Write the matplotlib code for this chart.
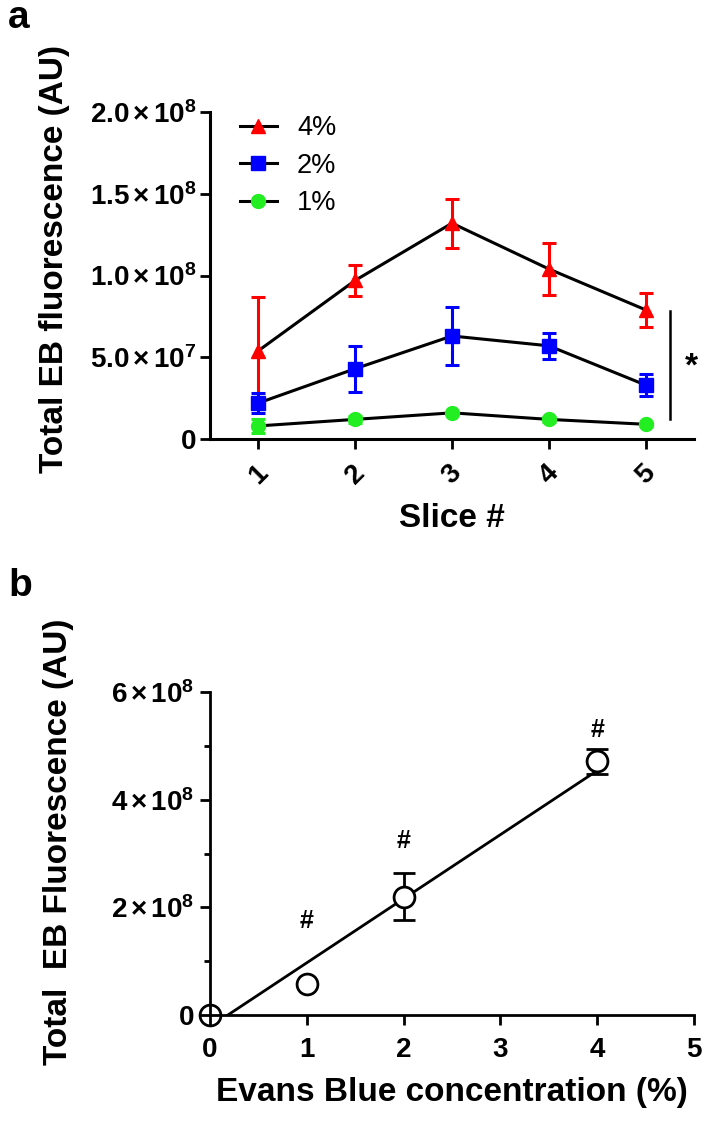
import matplotlib
matplotlib.use('Agg')
import matplotlib.pyplot as plt
from matplotlib.ticker import FixedLocator

plt.rcParams['font.family'] = ['Liberation Sans', 'DejaVu Sans']
plt.rcParams['font.weight'] = 'bold'
plt.rcParams['axes.labelweight'] = 'bold'
plt.rcParams['mathtext.fontset'] = 'custom'
plt.rcParams['mathtext.rm'] = 'Liberation Sans:bold'
plt.rcParams['mathtext.bf'] = 'Liberation Sans:bold'
plt.rcParams['mathtext.it'] = 'Liberation Sans:bold'
plt.rcParams['mathtext.default'] = 'rm'

# panel a: EB fluorescence per slice, mean and error
slices = [1, 2, 3, 4, 5]
labels_a = ['4%', '2%', '1%']
mean_4 = [5.4e7, 9.7e7, 1.32e8, 1.04e8, 7.9e7]
err_4 = [3.3e7, 0.95e7, 1.5e7, 1.6e7, 1.05e7]
mean_2 = [2.2e7, 4.3e7, 6.3e7, 5.7e7, 3.3e7]
err_2 = [0.6e7, 1.4e7, 1.8e7, 0.8e7, 0.7e7]
mean_1 = [0.8e7, 1.2e7, 1.6e7, 1.2e7, 0.9e7]
err_1 = [0.45e7, 0.2e7, 0.0, 0.15e7, 0.1e7]
yticks_a = [0, 5e7, 1e8, 1.5e8, 2e8]
yticklabels_a = ['0', r'$5.0\,{\times}\,10^{7}$', r'$1.0\,{\times}\,10^{8}$',
                 r'$1.5\,{\times}\,10^{8}$', r'$2.0\,{\times}\,10^{8}$']

# panel b: total fluorescence vs concentration
conc = [0, 1, 2, 4]
total = [0, 5.8e7, 2.2e8, 4.71e8]
total_err = [0, 0, 4.4e7, 2.4e7]
fit_slope = 1.19e8
fit_intercept = -2.2e7
fit_x = [0, 4]
hash_x = [1, 2, 4]
hash_y = [1.74e8, 3.23e8, 5.29e8]
yticks_b = [0, 2e8, 4e8, 6e8]
yticklabels_b = ['0', r'$2\,{\times}\,10^{8}$', r'$4\,{\times}\,10^{8}$',
                 r'$6\,{\times}\,10^{8}$']

fig = plt.figure(figsize=(7.16, 11.22), dpi=100)

# ---------- panel a ----------
ax1 = fig.add_axes([210/716, 1-439/1122, 484/716, 327/1122])
series = [(mean_4, err_4, '#ff0000', '^'), (mean_2, err_2, '#0000ff', 's'),
          (mean_1, err_1, '#22ee22', 'o')]
handles = []
for (m, e, c, mk), lab in zip(series, labels_a):
    ax1.errorbar(slices, m, yerr=e, fmt='none', ecolor=c, elinewidth=2.2,
                 capsize=5, capthick=2.2, zorder=2)
    h, = ax1.plot(slices, m, color='black', lw=2.2, marker=mk, markersize=10,
                  mfc=c, mec=c, label=lab, zorder=3)
    handles.append(h)

ax1.set_xlim(0.5, 5.5)
ax1.set_ylim(0, 2e8)
ax1.yaxis.set_major_locator(FixedLocator(yticks_a))
ax1.set_yticklabels(yticklabels_a)
ax1.set_xticks(slices)
ax1.set_xticklabels([str(s) for s in slices], rotation=45)
for side in ['top', 'right']:
    ax1.spines[side].set_visible(False)
for side in ['left', 'bottom']:
    ax1.spines[side].set_linewidth(2.2)
ax1.tick_params(direction='out', length=7, width=2, labelsize=20, pad=3)
ax1.tick_params(axis='x', pad=8)
ax1.set_ylabel('Total EB fluorescence (AU)', fontsize=24)
ax1.yaxis.set_label_coords(-0.29, 0.55)
ax1.set_xlabel('Slice #', fontsize=24, labelpad=10)

leg = ax1.legend(handles=handles, loc='upper left', bbox_to_anchor=(0.062, 0.99),
                 frameon=False, handlelength=1.35, handletextpad=0.75, labelspacing=0.42,
                 borderpad=0, borderaxespad=0, prop={'size': 19.5, 'weight': 'normal'})

# significance bar
ax1.plot([5.25, 5.25], [1.2e7, 7.85e7], color='black', lw=1.8, clip_on=False)
ax1.text(5.47, 4.4e7, '*', fontsize=24, ha='center', va='center')

fig.text(8/716, 1-28/1122, 'a', fontsize=28, ha='left', va='baseline')

# ---------- panel b ----------
ax2 = fig.add_axes([210/716, 1-1015/1122, 484/716, 323/1122])
ax2.set_axisbelow(False)
fit_y = [fit_slope * x + fit_intercept for x in fit_x]
ax2.plot(fit_x, fit_y, color='black', lw=2, zorder=1)
for x, y, e in zip(conc, total, total_err):
    if e > 0:
        ax2.errorbar(x, y, yerr=e, fmt='none', ecolor='black', elinewidth=2,
                     capsize=8, capthick=2, zorder=1.5)
ax2.plot(conc, total, ls='none', marker='o', markersize=15, mfc='white',
         mec='black', mew=2, zorder=2.2, clip_on=False)
for x, y in zip(hash_x, hash_y):
    ax2.text(x, y, '#', fontsize=18, ha='center', va='center')

ax2.set_xlim(0, 5)
ax2.set_ylim(0, 6e8)
ax2.yaxis.set_major_locator(FixedLocator(yticks_b))
ax2.yaxis.set_minor_locator(FixedLocator([1e8, 3e8, 5e8]))
ax2.set_yticklabels(yticklabels_b)
ax2.set_xticks([0, 1, 2, 3, 4, 5])
for side in ['top', 'right']:
    ax2.spines[side].set_visible(False)
for side in ['left', 'bottom']:
    ax2.spines[side].set_linewidth(2)
ax2.tick_params(which='major', direction='out', length=7, width=2, labelsize=20, pad=4)
ax2.tick_params(axis='x', which='major', pad=9)
ax2.tick_params(which='minor', direction='out', length=4, width=2)
ax2.set_ylabel('Total  EB Fluorescence (AU)', fontsize=24)
ax2.yaxis.set_label_coords(-0.28, 0.535)
ax2.set_xlabel('Evans Blue concentration (%)', fontsize=24, labelpad=10)

fig.text(8/716, 1-596/1122, 'b', fontsize=28, ha='left', va='baseline')

fig.savefig('out.png', dpi=100)
